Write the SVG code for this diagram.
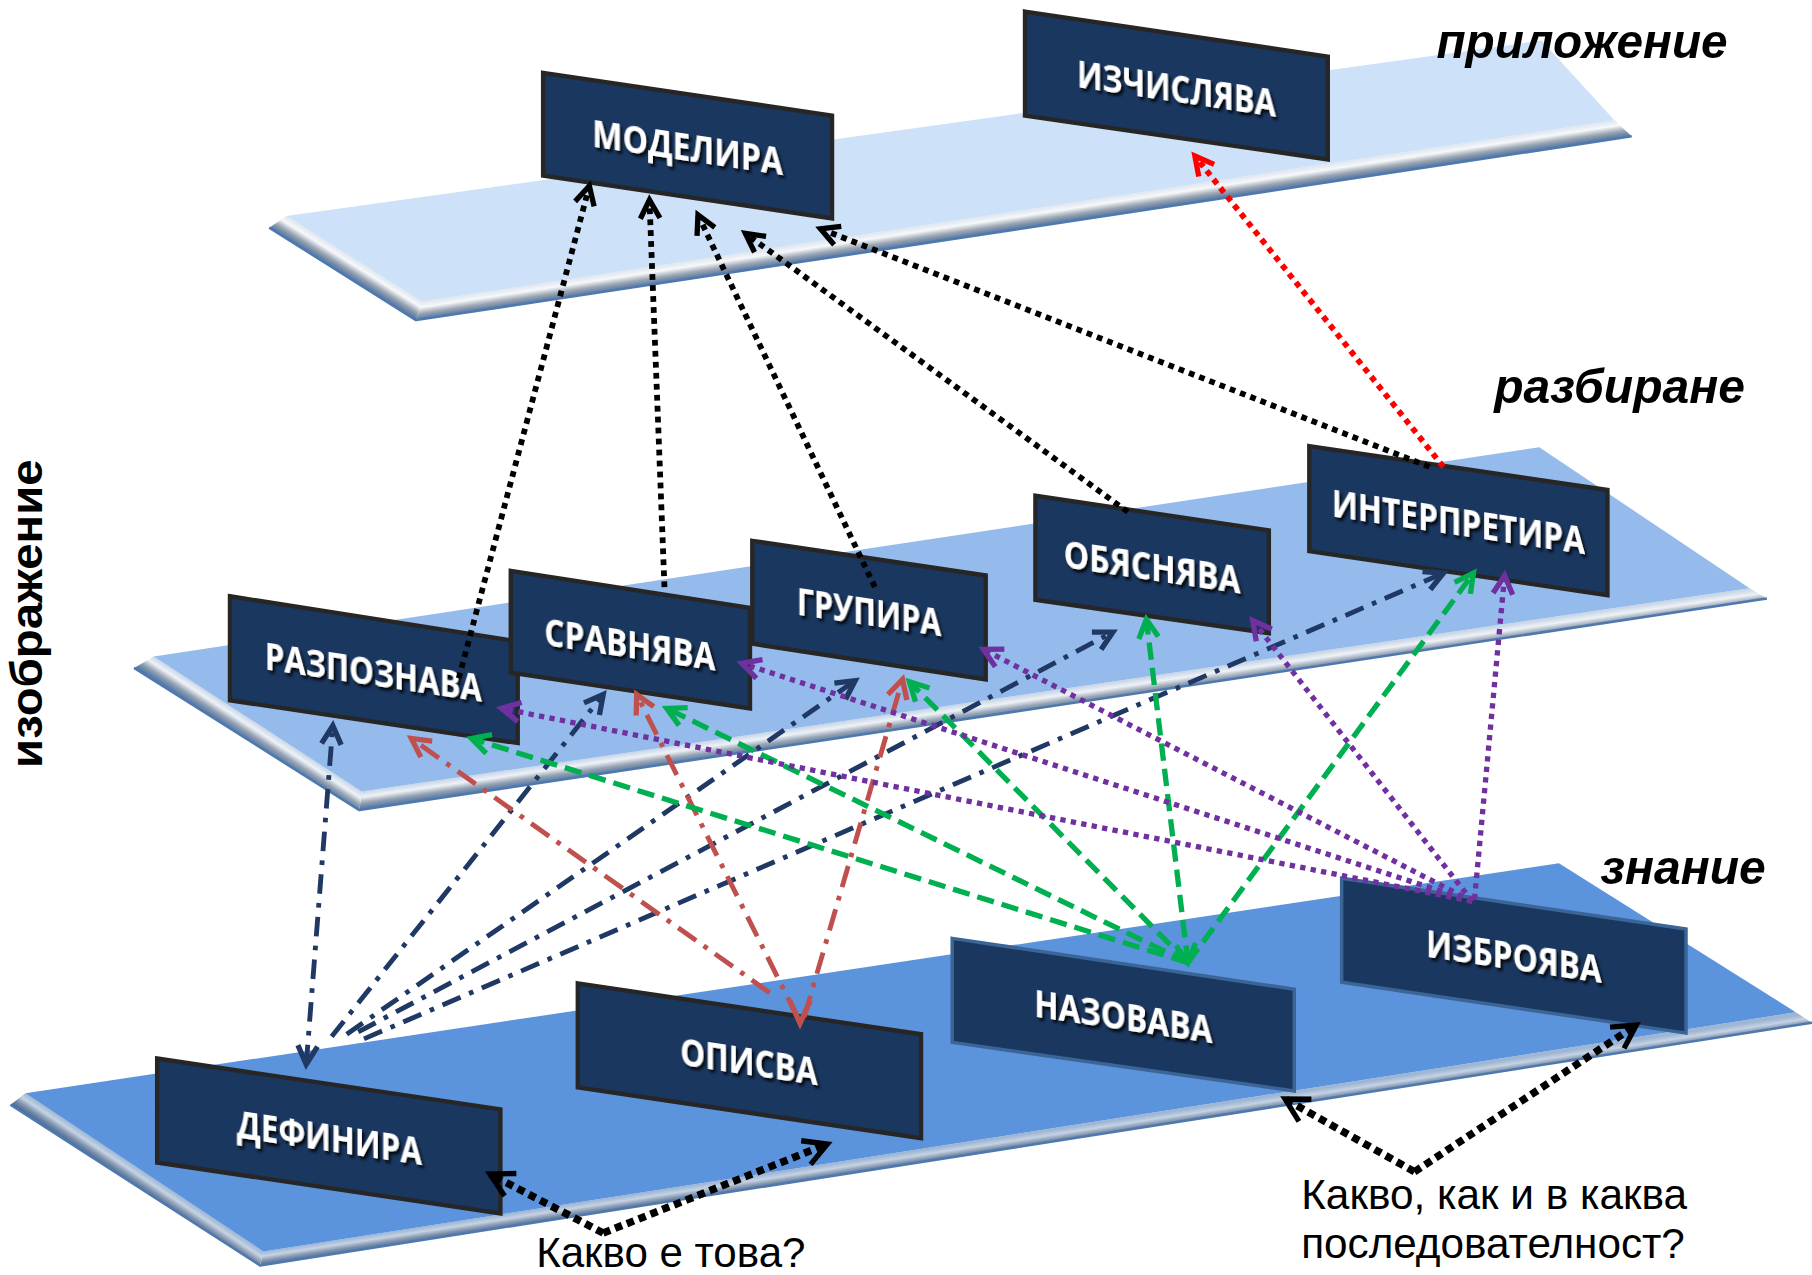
<svg xmlns="http://www.w3.org/2000/svg" width="1812" height="1275" viewBox="0 0 1812 1275">
<defs>
<style>
.face-top{fill:#cde1f8}
.face-mid{fill:#95bbec}
.face-bot{fill:#5b94dd}
.edge{fill:none;stroke:#4f79ae;stroke-width:2.2;stroke-linejoin:round}
.box{fill:#1a3760;stroke:#262626;stroke-width:3.8;stroke-linejoin:miter}
.box2{fill:#1a3760;stroke:#3b6597;stroke-width:3;stroke-linejoin:miter}
.nt{font-family:"Open Sans","Liberation Sans",sans-serif;font-weight:700;font-size:32px;fill:#ffffff;text-anchor:middle}
.lvl{font-family:"Liberation Sans",Arial,sans-serif;font-weight:700;font-style:italic;font-size:42px;fill:#000}
.side{font-family:"Liberation Sans",Arial,sans-serif;font-weight:700;font-size:38px;fill:#000;text-anchor:middle}
.q{font-family:"Liberation Sans",Arial,sans-serif;font-size:37px;fill:#000}
.c{fill:none;stroke-linecap:butt}
.k{stroke:#000;stroke-width:5;stroke-dasharray:5 4.5}
.r{stroke:#ff0000;stroke-width:5;stroke-dasharray:5 4.5}
.kb{stroke:#000;stroke-width:6.5;stroke-dasharray:6.5 4.5}
.nv{stroke:#1f3864;stroke-width:4.2;stroke-dasharray:17 8 4 8}
.br{stroke:#c0504d;stroke-width:4.2;stroke-dasharray:19 8 4 8}
.g{stroke:#00b050;stroke-width:4.6;stroke-dasharray:15 7}
.p{stroke:#7030a0;stroke-width:4.6;stroke-dasharray:4.6 4.6}
.ah{fill:none;stroke-width:4.6;stroke-linejoin:miter;stroke-linecap:butt}
</style>
<filter id="sh" x="-10%" y="-30%" width="125%" height="170%">
<feDropShadow dx="2" dy="2.5" stdDeviation="1.2" flood-color="#000" flood-opacity="0.9"/>
</filter>
<linearGradient id="bvTopF" gradientUnits="userSpaceOnUse" x1="365" y1="261" x2="367.4" y2="276.8">
<stop offset="0" stop-color="#dfe6ee"/><stop offset="0.3" stop-color="#f6f8fa"/><stop offset="0.62" stop-color="#9ea8b5"/><stop offset="0.82" stop-color="#7189a8"/><stop offset="1" stop-color="#4d77ae"/>
</linearGradient>
<linearGradient id="bvTopL" gradientUnits="userSpaceOnUse" x1="248" y1="187" x2="239.2" y2="201">
<stop offset="0" stop-color="#dfe6ee"/><stop offset="0.3" stop-color="#f6f8fa"/><stop offset="0.62" stop-color="#9ea8b5"/><stop offset="0.82" stop-color="#7189a8"/><stop offset="1" stop-color="#4d77ae"/>
</linearGradient>
<linearGradient id="bvMidF" gradientUnits="userSpaceOnUse" x1="313" y1="685" x2="315.3" y2="700.8">
<stop offset="0" stop-color="#c9d6e6"/><stop offset="0.3" stop-color="#eef2f7"/><stop offset="0.62" stop-color="#95a2b3"/><stop offset="0.82" stop-color="#6a86aa"/><stop offset="1" stop-color="#4a74ab"/>
</linearGradient>
<linearGradient id="bvMidL" gradientUnits="userSpaceOnUse" x1="133" y1="568" x2="123.7" y2="582.3">
<stop offset="0" stop-color="#c9d6e6"/><stop offset="0.3" stop-color="#eef2f7"/><stop offset="0.62" stop-color="#95a2b3"/><stop offset="0.82" stop-color="#6a86aa"/><stop offset="1" stop-color="#4a74ab"/>
</linearGradient>
<linearGradient id="bvBotF" gradientUnits="userSpaceOnUse" x1="228" y1="1083" x2="230" y2="1096">
<stop offset="0" stop-color="#9fb6d3"/><stop offset="0.3" stop-color="#c5d3e4"/><stop offset="0.62" stop-color="#7d91ab"/><stop offset="0.82" stop-color="#58779f"/><stop offset="1" stop-color="#3f68a0"/>
</linearGradient>
<linearGradient id="bvBotL" gradientUnits="userSpaceOnUse" x1="22" y1="946" x2="13.4" y2="958.9">
<stop offset="0" stop-color="#9fb6d3"/><stop offset="0.3" stop-color="#c5d3e4"/><stop offset="0.62" stop-color="#7d91ab"/><stop offset="0.82" stop-color="#58779f"/><stop offset="1" stop-color="#3f68a0"/>
</linearGradient>
<marker id="mk" markerUnits="userSpaceOnUse" orient="auto-start-reverse" markerWidth="1" markerHeight="1" refX="0" refY="0" overflow="visible"><path class="ah" stroke="#000" d="M-16,-8.5 L0,0 L-16,8.5"/></marker>
<marker id="mr" markerUnits="userSpaceOnUse" orient="auto-start-reverse" markerWidth="1" markerHeight="1" refX="0" refY="0" overflow="visible"><path class="ah" stroke="#ff0000" d="M-16,-8.5 L0,0 L-16,8.5"/></marker>
<marker id="mkb" markerUnits="userSpaceOnUse" orient="auto-start-reverse" markerWidth="1" markerHeight="1" refX="0" refY="0" overflow="visible"><path class="ah" stroke="#000" stroke-width="6.5" d="M-20,-11 L0,0 L-20,11"/></marker>
<marker id="mnv" markerUnits="userSpaceOnUse" orient="auto-start-reverse" markerWidth="1" markerHeight="1" refX="0" refY="0" overflow="visible"><path class="ah" stroke="#1f3864" d="M-16,-8.5 L0,0 L-16,8.5"/></marker>
<marker id="mbr" markerUnits="userSpaceOnUse" orient="auto-start-reverse" markerWidth="1" markerHeight="1" refX="0" refY="0" overflow="visible"><path class="ah" stroke="#c0504d" d="M-16,-8.5 L0,0 L-16,8.5"/></marker>
<marker id="mg" markerUnits="userSpaceOnUse" orient="auto-start-reverse" markerWidth="1" markerHeight="1" refX="0" refY="0" overflow="visible"><path class="ah" stroke="#00b050" d="M-16,-8.5 L0,0 L-16,8.5"/></marker>
<marker id="mp" markerUnits="userSpaceOnUse" orient="auto-start-reverse" markerWidth="1" markerHeight="1" refX="0" refY="0" overflow="visible"><path class="ah" stroke="#7030a0" d="M-16,-8.5 L0,0 L-16,8.5"/></marker>
</defs>
<rect width="1812" height="1275" fill="#ffffff"/>
<g transform="scale(1.1556)">
<g id="platforms">
<g id="platform-top">
<polygon fill="url(#bvTopF)" points="365,261 1397,104 1412,118 360,277"/>
<polygon fill="url(#bvTopL)" points="248,187 365,261 360,277 233,197"/>
<polyline class="edge" points="233,197 360,277 1412,118"/>
<polygon class="face-top" points="248,187 1334,35 1397,104 365,261"/>
</g>
<g id="platform-mid">
<polygon fill="url(#bvMidF)" points="313,685 1514,509 1529,518 311,701"/>
<polygon fill="url(#bvMidL)" points="133,568 313,685 311,701 116,578"/>
<polyline class="edge" points="116,578 311,701 1529,518"/>
<polygon class="face-mid" points="133,568 1332,387 1514,509 313,685"/>
</g>
<g id="platform-bot">
<polygon fill="url(#bvBotF)" points="228,1083 1554,876 1568,885 225,1095"/>
<polygon fill="url(#bvBotL)" points="22,946 228,1083 225,1095 9,956"/>
<polyline class="edge" points="9,956 225,1095 1568,885"/>
<polygon class="face-bot" points="22,946 1349,747 1554,876 228,1083"/>
</g>
</g>
<g id="level-labels">
<text class="lvl" x="1243" y="50" textLength="252" lengthAdjust="spacingAndGlyphs">приложение</text>
<text class="lvl" x="1293" y="349" textLength="217" lengthAdjust="spacingAndGlyphs">разбиране</text>
<text class="lvl" x="1385" y="765" textLength="143" lengthAdjust="spacingAndGlyphs">знание</text>
<text class="side" transform="translate(36,531) rotate(-90)" textLength="267" lengthAdjust="spacingAndGlyphs">изображение</text>
</g>
<g id="node-modelira">
<polygon class="box" points="470,63 720,100 720,189 470,152"/>
<text class="nt" filter="url(#sh)" transform="translate(595,128) skewY(8.5)" y="11" textLength="165" lengthAdjust="spacingAndGlyphs">МОДЕЛИРА</text>
</g>
<g id="node-izchislyava">
<polygon class="box" points="887,10 1149,49 1149,138 887,100"/>
<text class="nt" filter="url(#sh)" transform="translate(1018,77) skewY(8.5)" y="11" textLength="172" lengthAdjust="spacingAndGlyphs">ИЗЧИСЛЯВА</text>
</g>
<g id="node-razpoznava">
<polygon class="box" points="199,516 448,555 448,643 199,606"/>
<text class="nt" filter="url(#sh)" transform="translate(323,582) skewY(8.5)" y="11" textLength="188" lengthAdjust="spacingAndGlyphs">РАЗПОЗНАВА</text>
</g>
<g id="node-grupira">
<polygon class="box" points="651,468 853,498 853,588 651,557"/>
<text class="nt" filter="url(#sh)" transform="translate(752,530) skewY(8.5)" y="11" textLength="125" lengthAdjust="spacingAndGlyphs">ГРУПИРА</text>
</g>
<g id="node-sravnyava">
<polygon class="box" points="442,494 649,526 649,613 442,582"/>
<text class="nt" filter="url(#sh)" transform="translate(545,558) skewY(8.5)" y="11" textLength="148" lengthAdjust="spacingAndGlyphs">СРАВНЯВА</text>
</g>
<g id="node-obyasnyava">
<polygon class="box" points="896,429 1098,459 1098,548 896,519"/>
<text class="nt" filter="url(#sh)" transform="translate(997,491) skewY(8.5)" y="11" textLength="153" lengthAdjust="spacingAndGlyphs">ОБЯСНЯВА</text>
</g>
<g id="node-interpretira">
<polygon class="box" points="1133,386 1391,424 1391,515 1133,477"/>
<text class="nt" filter="url(#sh)" transform="translate(1262,452) skewY(8.5)" y="11" textLength="219" lengthAdjust="spacingAndGlyphs">ИНТЕРПРЕТИРА</text>
</g>
<g id="node-definira">
<polygon class="box" points="136,916 433,960 433,1050 136,1006"/>
<text class="nt" filter="url(#sh)" transform="translate(285,985) skewY(8.5)" y="11" textLength="160" lengthAdjust="spacingAndGlyphs">ДЕФИНИРА</text>
</g>
<g id="node-opisva">
<polygon class="box" points="500,851 797,895 797,985 500,941"/>
<text class="nt" filter="url(#sh)" transform="translate(648,919) skewY(8.5)" y="11" textLength="119" lengthAdjust="spacingAndGlyphs">ОПИСВА</text>
</g>
<g id="node-nazovava">
<polygon class="box2" points="824,812 1120,856 1120,944 824,902"/>
<text class="nt" filter="url(#sh)" transform="translate(972,880) skewY(8.5)" y="11" textLength="154" lengthAdjust="spacingAndGlyphs">НАЗОВАВА</text>
</g>
<g id="node-izbroyava">
<polygon class="box2" points="1161,760 1459,804 1459,894 1161,850"/>
<text class="nt" filter="url(#sh)" transform="translate(1310,828) skewY(8.5)" y="11" textLength="152" lengthAdjust="spacingAndGlyphs">ИЗБРОЯВА</text>
</g>
<g id="connectors">
<path class="c k" marker-end="url(#mk)" d="M397,587 L510,161"/>
<path class="c k" marker-end="url(#mk)" d="M575,508 L562,173"/>
<path class="c k" marker-end="url(#mk)" d="M757,508 L604,186"/>
<path class="c k" marker-end="url(#mk)" d="M976,443 L645,202"/>
<path class="c k" marker-end="url(#mk)" d="M1237,404 L710,198"/>
<path class="c r" marker-end="url(#mr)" d="M1249,404 L1034,135"/>
<path class="c nv" marker-start="url(#mnv)" marker-end="url(#mnv)" d="M265,921 L288,628"/>
<path class="c nv" marker-end="url(#mnv)" d="M287,897 L522,601"/>
<path class="c nv" marker-end="url(#mnv)" d="M300,895 L740,589"/>
<path class="c nv" marker-end="url(#mnv)" d="M310,893 L963,547"/>
<path class="c nv" marker-end="url(#mnv)" d="M315,899 L1249,496"/>
<path class="c br" marker-end="url(#mbr)" d="M666,859 L356,639"/>
<path class="c br" marker-end="url(#mbr)" d="M690,880 L551,601"/>
<path class="c br" marker-end="url(#mbr)" d="M696,880 L781,588"/>
<path class="ah" stroke="#c0504d" d="M683.5,866 L692.3,885.5 L701.3,865.7"/>
<path class="c g" marker-end="url(#mg)" d="M1028,833 L408,639"/>
<path class="c g" marker-end="url(#mg)" d="M1028,833 L577,613"/>
<path class="c g" marker-end="url(#mg)" d="M1028,833 L787,590"/>
<path class="c g" marker-start="url(#mg)" marker-end="url(#mg)" d="M1028,833 L992,536"/>
<path class="c g" marker-end="url(#mg)" d="M1028,833 L1275,496"/>
<path class="c p" marker-end="url(#mp)" d="M1274,780 L434,613"/>
<path class="c p" marker-end="url(#mp)" d="M1274,780 L642,574"/>
<path class="c p" marker-end="url(#mp)" d="M1274,780 L851,562"/>
<path class="c p" marker-end="url(#mp)" d="M1274,780 L1084,537"/>
<path class="c p" marker-end="url(#mp)" d="M1276,778 L1302,498"/>
<path class="c kb" marker-end="url(#mkb)" d="M522,1067 L424,1016"/>
<path class="c kb" marker-end="url(#mkb)" d="M522,1067 L716,990"/>
<path class="c kb" marker-end="url(#mkb)" d="M1224,1014 L1112,951"/>
<path class="c kb" marker-end="url(#mkb)" d="M1224,1014 L1416,887"/>
</g>
<g id="questions">
<text class="q" x="464" y="1096" textLength="233" lengthAdjust="spacingAndGlyphs">Какво е това?</text>
<text class="q" x="1126" y="1046" textLength="334" lengthAdjust="spacingAndGlyphs">Какво, как и в каква</text>
<text class="q" x="1126" y="1089" textLength="332" lengthAdjust="spacingAndGlyphs">последователност?</text>
</g>
</g>
</svg>
